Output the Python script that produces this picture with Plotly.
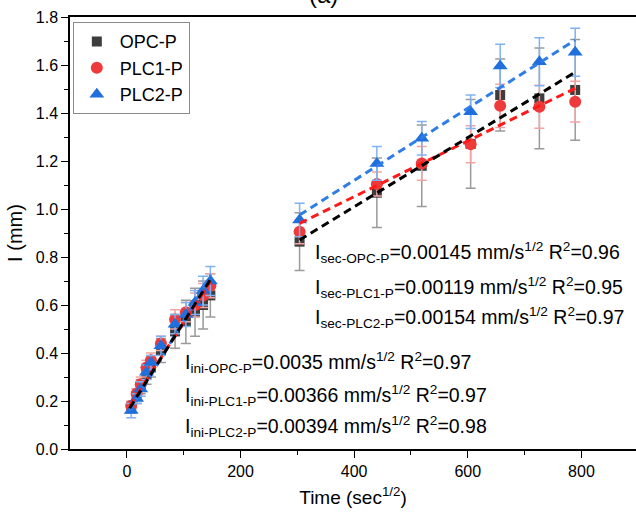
import plotly.graph_objects as go

# ---- data ----
t_ini = [7.7, 17.3, 24.5, 34.6, 42.4, 60.0, 84.9, 103.9, 120.0, 134.2, 147.0]
t_sec = [304, 440, 519, 605, 657, 726, 789]

opc_ini = [0.17, 0.22, 0.26, 0.31, 0.34, 0.41, 0.49, 0.53, 0.57, 0.60, 0.64]
opc_sec = [0.864, 1.068, 1.18, 1.271, 1.475, 1.461, 1.496]
opc_ini_err = [0.02, 0.03, 0.03, 0.04, 0.04, 0.05, 0.07, 0.09, 0.10, 0.10, 0.09]
opc_sec_err = [0.12, 0.145, 0.17, 0.185, 0.15, 0.21, 0.21]

plc1_ini = [0.18, 0.23, 0.27, 0.34, 0.37, 0.44, 0.54, 0.57, 0.60, 0.64, 0.68]
plc1_sec = [0.905, 1.104, 1.19, 1.27, 1.43, 1.426, 1.447]
plc1_ini_err = [0.02, 0.02, 0.03, 0.03, 0.03, 0.03, 0.04, 0.04, 0.05, 0.05, 0.05]
plc1_sec_err = [0.05, 0.05, 0.07, 0.077, 0.09, 0.09, 0.085]

plc2_ini = [0.16, 0.21, 0.25, 0.32, 0.36, 0.43, 0.52, 0.56, 0.61, 0.66, 0.70]
plc2_sec = [0.954, 1.19, 1.295, 1.405, 1.596, 1.614, 1.653]
plc2_ini_err = [0.03, 0.02, 0.03, 0.03, 0.03, 0.04, 0.04, 0.05, 0.05, 0.06, 0.06]
plc2_sec_err = [0.07, 0.07, 0.07, 0.07, 0.09, 0.10, 0.10]

# fitted lines (end points)
fit_x_ini = [5, 148]
fit_x_sec = [304, 789]
fit_opc_ini = [0.17, 0.71]
fit_plc1_ini = [0.18, 0.70]
fit_plc2_ini = [0.16, 0.725]
fit_opc_sec = [0.871, 1.57]
fit_plc1_sec = [0.94, 1.503]
fit_plc2_sec = [0.975, 1.704]

names = ["OPC-P", "PLC1-P", "PLC2-P"]
labels_sec = [
    "I<sub>sec-OPC-P</sub>=0.00145 mm/s<sup>1/2</sup> R<sup>2</sup>=0.96",
    "I<sub>sec-PLC1-P</sub>=0.00119 mm/s<sup>1/2</sup> R<sup>2</sup>=0.95",
    "I<sub>sec-PLC2-P</sub>=0.00154 mm/s<sup>1/2</sup> R<sup>2</sup>=0.97",
]
labels_ini = [
    "I<sub>ini-OPC-P</sub>=0.0035 mm/s<sup>1/2</sup> R<sup>2</sup>=0.97",
    "I<sub>ini-PLC1-P</sub>=0.00366 mm/s<sup>1/2</sup> R<sup>2</sup>=0.97",
    "I<sub>ini-PLC2-P</sub>=0.00394 mm/s<sup>1/2</sup> R<sup>2</sup>=0.98",
]
x_ticks = [0, 200, 400, 600, 800]

FONT = "Liberation Sans, Arial, sans-serif"

fig = go.Figure()

series = [
    (names[0], opc_ini + opc_sec, opc_ini_err + opc_sec_err, "#3d3d3d", "#9a9a9a", "square", 10),
    (names[1], plc1_ini + plc1_sec, plc1_ini_err + plc1_sec_err, "#ee3a3a", "#f4a3a3", "circle", 12),
    (names[2], plc2_ini + plc2_sec, plc2_ini_err + plc2_sec_err, "#1f6fdc", "#7fb2f0", "triangle-up", 13),
]
for name, y, err, col, ecol, sym, size in series:
    fig.add_trace(go.Scatter(
        x=t_ini + t_sec, y=y, mode="markers", name=name,
        marker=dict(color=col, symbol=sym, size=size, line=dict(width=0)),
        error_y=dict(type="data", array=err, visible=True, color=ecol, thickness=1.5, width=5),
    ))

fits = [
    (fit_plc1_ini, fit_plc1_sec, "#ff1a1a"),
    (fit_plc2_ini, fit_plc2_sec, "#2f7de6"),
    (fit_opc_ini, fit_opc_sec, "#000000"),
]
for fi, fs, col in fits:
    for fx, fy in ((fit_x_ini, fi), (fit_x_sec, fs)):
        fig.add_trace(go.Scatter(
            x=fx, y=fy, mode="lines", showlegend=False, hoverinfo="skip",
            line=dict(color=col, width=3, dash="8px,5px"),
        ))

ann = []
for i, txt in enumerate(labels_sec):
    ann.append(dict(x=327, y=[0.817, 0.675, 0.546][i], xref="x", yref="y", text=txt,
                    showarrow=False, xanchor="left", yanchor="middle",
                    font=dict(size=19.5, color="black", family=FONT)))
for i, txt in enumerate(labels_ini):
    ann.append(dict(x=98, y=[0.3625, 0.225, 0.092][i], xref="x", yref="y", text=txt,
                    showarrow=False, xanchor="left", yanchor="middle",
                    font=dict(size=19.5, color="black", family=FONT)))
ann.append(dict(x=(307 - 70) / 566, y=(449 - 10) / 432, xref="paper", yref="paper", text="(a)",
                showarrow=False, xanchor="left", yanchor="bottom",
                font=dict(size=24, color="black", family=FONT)))

fig.update_layout(
    width=636, height=515,
    margin=dict(l=70, r=0, t=17, b=66),
    paper_bgcolor="white", plot_bgcolor="white",
    font=dict(family=FONT, size=16, color="black"),
    showlegend=True,
    legend=dict(x=0.005, y=0.988, xanchor="left", yanchor="top",
                bordercolor="#8a8a8a", borderwidth=1, bgcolor="white",
                font=dict(size=18, family=FONT), tracegroupgap=0, itemwidth=36),
    annotations=ann,
)
fig.update_xaxes(
    range=[-100, 896], showgrid=False, zeroline=False,
    showline=True, linecolor="black", linewidth=1.5, mirror=True,
    ticks="outside", ticklen=7, tickwidth=1.2, tickcolor="black",
    tickvals=x_ticks, tickfont=dict(size=16),
    minor=dict(tickvals=[100, 300, 500, 700], ticks="outside", ticklen=4, tickcolor="black", tickwidth=1.2),
    title=dict(text="Time (sec<sup>1/2</sup>)", font=dict(size=19), standoff=12),
)
fig.update_yaxes(
    range=[0, 1.8], showgrid=False, zeroline=False,
    showline=True, linecolor="black", linewidth=1.5,
    ticks="outside", ticklen=7, tickwidth=1.2, tickcolor="black",
    dtick=0.2, tickformat=".1f", tickfont=dict(size=16),
    minor=dict(dtick=0.1, ticks="outside", ticklen=4, tickcolor="black", tickwidth=1.2),
    title=dict(text="I (mm)", font=dict(size=20), standoff=8),
)

fig.write_html("out.html")
